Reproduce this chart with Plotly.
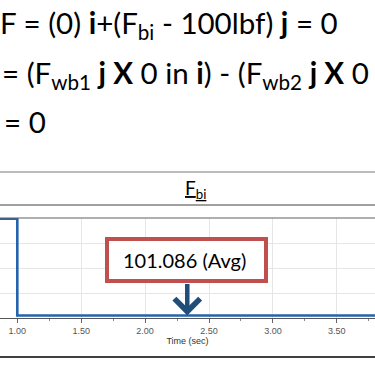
import plotly.graph_objects as go

# ---- data ----
time_sec = [0.80, 1.00, 1.00, 3.85]
force_bi = [3970, 3970, 101.086, 101.086]
avg_label = "101.086 (Avg)"
avg_time = 2.33
avg_value = 101.086
x_ticks = [1.00, 1.50, 2.00, 2.50, 3.00, 3.50]
eq_lines = [
    "F = (0) <b>i</b>+(F<sub>bi</sub> - 100lbf) <b>j</b> = 0",
    "= (F<sub>wb1</sub> <b>j X</b> 0 in <b>i</b>) - (F<sub>wb2</sub> <b>j X</b> 0 in <b>i</b>)",
    "= 0",
]

W = H = 375
def px(x):
    return x / W
def py(y):
    return 1 - y / H

X0_PX, X_SCALE = 17.3, 127.8  # px of t=1.0, px per second
xr = [1.0 - X0_PX / X_SCALE, 1.0 + (W - X0_PX) / X_SCALE]

fig = go.Figure()
fig.add_trace(go.Scatter(x=time_sec, y=force_bi, mode="lines",
                         line=dict(color="#2463ad", width=2.6), hoverinfo="skip"))

fig.update_layout(
    width=W, height=H, margin=dict(l=0, r=0, t=0, b=0),
    paper_bgcolor="white", plot_bgcolor="white", showlegend=False,
    font=dict(family="Lato", color="black"),
    xaxis=dict(domain=[0, 1], range=xr, tickvals=x_ticks, tickformat=".2f",
               showgrid=True, gridcolor="#e6e6e6", gridwidth=1,
               zeroline=False, showline=True, linecolor="#555555", linewidth=1,
               ticks="outside", ticklen=4, tickcolor="#666666",
               tickfont=dict(size=9, color="#555555", family="Arial"),
               minor=dict(dtick=0.25, tick0=1.0, ticks="outside", ticklen=2, tickcolor="#888888", showgrid=False),
               title=dict(text="Time (sec)", font=dict(size=9, color="#333333", family="Arial"), standoff=2),
               automargin=False, fixedrange=True),
    yaxis=dict(domain=[py(318), py(218)], range=[0, 4000], dtick=1000,
               showgrid=True, gridcolor="#e6e6e6", gridwidth=1, zeroline=False,
               showticklabels=False, showline=False, automargin=False, fixedrange=True),
)

# frame lines
for ypx, col, w in [(172, "#a6a6a6", 1.5), (205, "#7f7f7f", 1.5), (218, "#606060", 1.2), (357, "#404040", 2)]:
    fig.add_shape(type="line", xref="paper", yref="paper", x0=0, x1=1, y0=py(ypx), y1=py(ypx),
                  line=dict(color=col, width=w), layer="above")

# title
fig.add_annotation(xref="paper", yref="paper", x=px(195), y=py(189), text="<u>F<sub>bi</sub></u>",
                   showarrow=False, font=dict(size=19, family="Lato", color="black"),
                   xanchor="center", yanchor="middle")

# equation lines
eq_pos = [(-2, 24), (0, 74), (2, 121)]
for (xp, yp), t in zip(eq_pos, eq_lines):
    fig.add_annotation(xref="paper", yref="paper", x=px(xp), y=py(yp), text=t, showarrow=False,
                       xanchor="left", yanchor="middle", font=dict(size=29.5, family="Lato", color="black"))

# avg box
fig.add_shape(type="rect", xref="paper", yref="paper", x0=px(107), x1=px(266), y0=py(281), y1=py(239),
              line=dict(color="#c0504d", width=4), fillcolor="white", layer="above")
fig.add_annotation(xref="paper", yref="paper", x=px(184), y=py(260), text=avg_label, showarrow=False,
                   font=dict(size=20, family="Lato", color="black"), xanchor="center", yanchor="middle")
# arrow
fig.add_annotation(x=avg_time, y=avg_value, xref="x", yref="y", text="", showarrow=True,
                   ax=0, ay=-33, arrowhead=4, arrowwidth=4.5, arrowsize=1.1, arrowcolor="#1f4e79")

fig.write_html("out.html", config={"displayModeBar": False, "staticPlot": True},
               post_script="document.body.style.margin='0';document.body.style.overflow='hidden';")
